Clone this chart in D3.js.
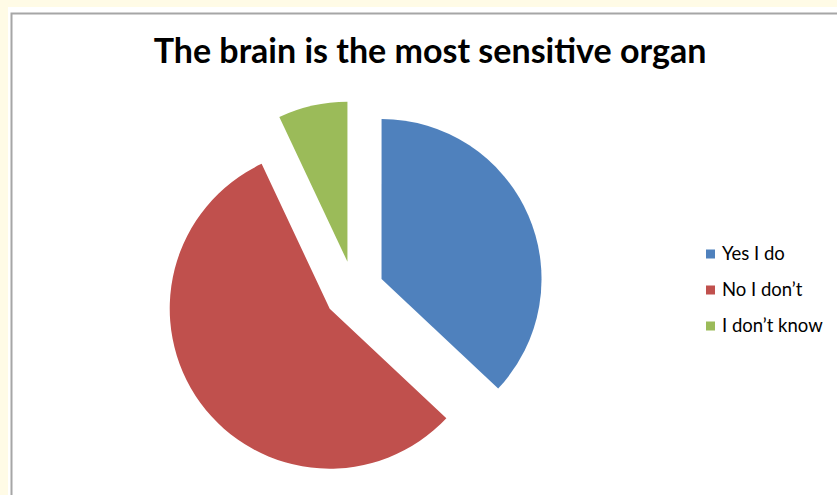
<!DOCTYPE html>
<html>
<head>
<meta charset="utf-8">
<script src="https://cdn.jsdelivr.net/npm/d3@7"></script>
<style>
  html, body { margin: 0; padding: 0; background: #fffbe6; }
  svg { display: block; }
</style>
</head>
<body>
<script>
// Survey answers (percent of respondents)
const categories = ["Yes I do", "No I don\u2019t", "I don\u2019t know"];
const values = [37, 56, 7];
const colors = ["#4f81bd", "#c0504d", "#9bbb59"];
const title = "The brain is the most sensitive organ";

const W = 837, H = 495;
const svg = d3.select("body").append("svg").attr("width", W).attr("height", H);

// chart sheet: white panel with a grey frame
svg.append("rect").attr("x", 8).attr("y", 7).attr("width", W).attr("height", H)
  .attr("fill", "#ffffff");
svg.append("path")
  .attr("d", `M11.5,${H} V13.5 H${W}`)
  .attr("fill", "none").attr("stroke", "#a6a6a6").attr("stroke-width", 2);

// title
svg.append("text")
  .attr("x", 430).attr("y", 63)
  .attr("text-anchor", "middle")
  .attr("font-family", "Lato, 'Open Sans', sans-serif")
  .attr("font-weight", "bold")
  .attr("font-size", 34)
  .attr("fill", "#000")
  .text(title);

// exploded pie
const cx = 354, cy = 291, radius = 160, explode = 30;
const pie = d3.pie().sort(null).value(d => d)(values);
const arc = d3.arc().innerRadius(0).outerRadius(radius);

const g = svg.append("g").attr("transform", `translate(${cx},${cy})`);
g.selectAll("path.slice")
  .data(pie)
  .join("path")
  .attr("class", "slice")
  .attr("d", arc)
  .attr("fill", (d, i) => colors[i])
  .attr("transform", d => {
    const a = (d.startAngle + d.endAngle) / 2;
    return `translate(${explode * Math.sin(a)},${-explode * Math.cos(a)})`;
  });

// legend
const legendY = d3.scalePoint().domain(categories).range([254, 326]);
const legend = svg.append("g");
const item = legend.selectAll("g.item")
  .data(categories)
  .join("g")
  .attr("class", "item")
  .attr("transform", d => `translate(706,${legendY(d)})`);
item.append("rect")
  .attr("x", 0).attr("y", -4.5)
  .attr("width", 9).attr("height", 9)
  .attr("fill", (d, i) => colors[i]);
item.append("text")
  .attr("x", 16).attr("y", 0)
  .attr("dy", "0.35em")
  .attr("font-family", "Lato, 'Open Sans', sans-serif")
  .attr("font-size", 18.5)
  .attr("fill", "#000")
  .text(d => d);
</script>
</body>
</html>
